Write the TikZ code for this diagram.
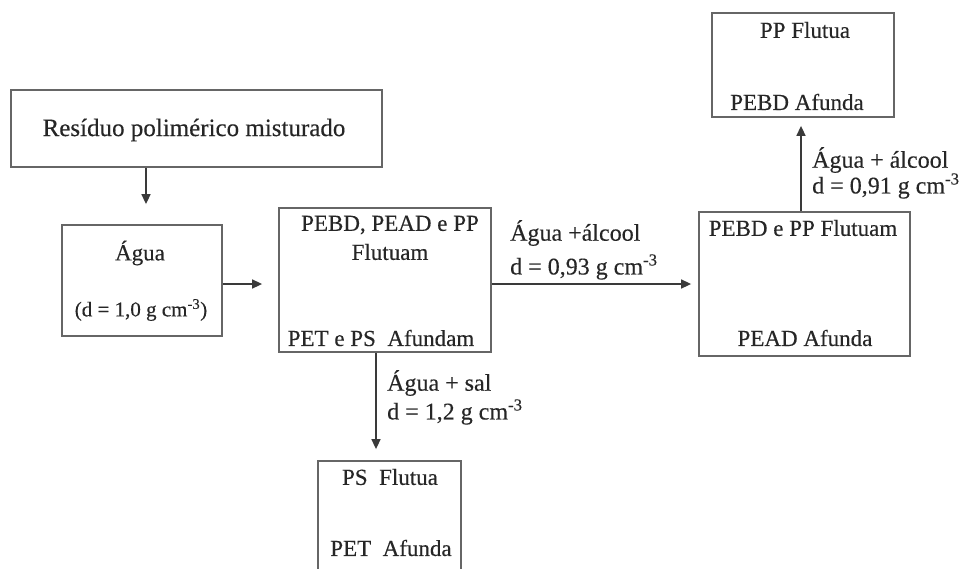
\documentclass[tikz,border=0pt]{standalone}
\usepackage{fontspec}
\setmainfont{Liberation Serif}
\newfontfamily\heavyserif{Liberation Serif}[FakeBold=0.3]
\usetikzlibrary{arrows.meta}
\definecolor{boxline}{HTML}{666666}
\definecolor{arrline}{HTML}{3A3A3A}
\definecolor{txt}{HTML}{262626}
\begin{document}
\begin{tikzpicture}[x=1pt,y=-1pt,
  stepbox/.style={draw=boxline,line width=1.8pt,inner sep=0pt,fill=none},
  boxtxt/.style={inner sep=0pt,text=txt,font=\heavyserif\fontsize{23}{26}\selectfont},
  lbl/.style={inner sep=0pt,anchor=west,text=txt,font=\heavyserif\fontsize{24}{27}\selectfont},
  arr/.style={draw=arrline,line width=1.6pt,-{Triangle[length=10pt,width=9pt]}}]
\useasboundingbox (0,0) rectangle (971,568);
\fill[white] (0,0) rectangle (971,568);
\begin{scope}
\clip (0,0) rectangle (971,568);
% boxes
\node[stepbox,minimum width=371pt,minimum height=77pt] (res) at (196.5,128.5) {};
\node[stepbox,minimum width=160pt,minimum height=111pt] (agua) at (142,280.5) {};
\node[stepbox,minimum width=212pt,minimum height=144pt] (mix) at (385,280) {};
\node[stepbox,minimum width=211pt,minimum height=144pt] (pebdpp) at (804.5,284) {};
\node[stepbox,minimum width=182pt,minimum height=104pt] (pp) at (803,65) {};
\node[stepbox,minimum width=143pt,minimum height=130pt] (ps) at (389.5,526) {};
\end{scope}
% texts in boxes
\node[boxtxt,font=\heavyserif\fontsize{25}{28}\selectfont] (tres) at (194,130) {Resíduo polimérico misturado};
\node[boxtxt] (tagua1) at (140,253) {Água};
\node[boxtxt,font=\heavyserif\fontsize{21}{24}\selectfont] (tagua2) at (141,310) {(d = 1,0 g cm\textsuperscript{-3})};
\node[boxtxt] (tmix1) at (390,225) {PEBD, PEAD e PP};
\node[boxtxt] (tmix2) at (390,252) {Flutuam};
\node[boxtxt] (tmix3) at (381,338) {PET e PS\ \ Afundam};
\node[boxtxt] (tpe1) at (803,228) {PEBD e PP Flutuam};
\node[boxtxt] (tpe2) at (805,338) {PEAD Afunda};
\node[boxtxt] (tpp1) at (805,30) {PP Flutua};
\node[boxtxt] (tpp2) at (797,102) {PEBD Afunda};
\node[boxtxt] (tps1) at (390,477) {PS\ \ Flutua};
\node[boxtxt] (tps2) at (391,548) {PET\ \ Afunda};
% arrows
\draw[arr,shorten >=20pt] (res.south -| 146,0) -- (agua.north -| 146,0);
\draw[arr,shorten >=16pt] (agua.east |- 0,284) -- (mix.west |- 0,284);
\draw[arr,shorten >=7pt] (mix.east |- 0,284) -- (pebdpp.west |- 0,284);
\draw[arr,shorten >=11pt] (mix.south -| 376,0) -- (ps.north -| 376,0);
\draw[arr,shorten >=8pt] (pebdpp.north -| 801,0) -- (pp.south -| 801,0);
% labels
\node[lbl] (l1a) at (510,233) {Água +álcool};
\node[lbl] (l1b) at (510,267) {d = 0,93 g cm\textsuperscript{-3}};
\node[lbl] (l2a) at (812,160) {Água + álcool};
\node[lbl] (l2b) at (812,186) {d = 0,91 g cm\textsuperscript{-3}};
\node[lbl] (l3a) at (387,383) {Água + sal};
\node[lbl] (l3b) at (387,412) {d = 1,2 g cm\textsuperscript{-3}};
\end{tikzpicture}
\end{document}
